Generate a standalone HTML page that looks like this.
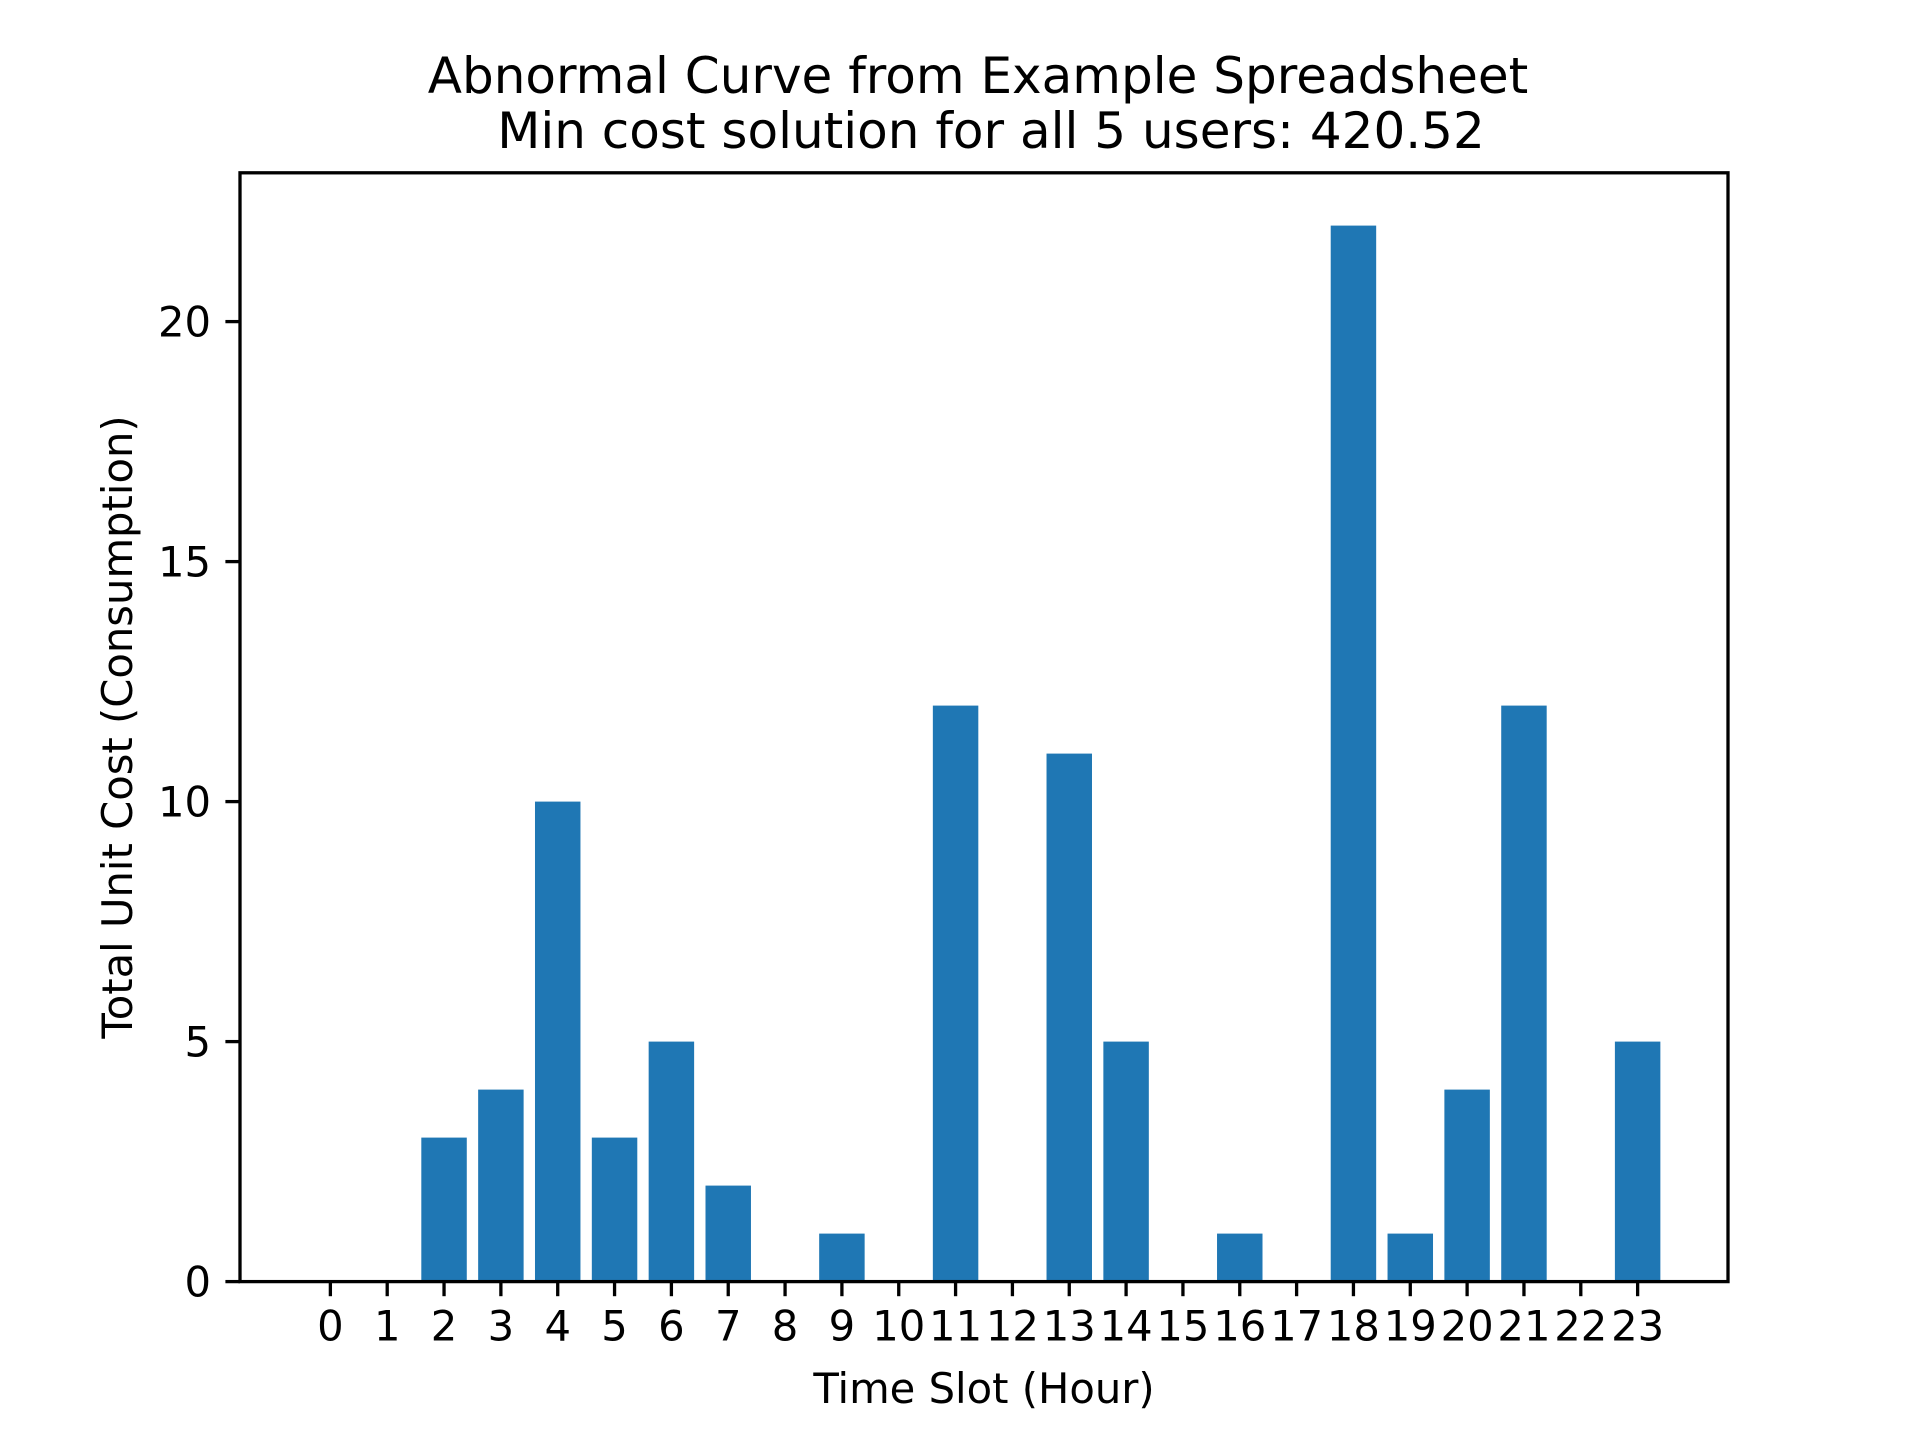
<!DOCTYPE html>
<html><head><meta charset="utf-8"><style>
html,body{margin:0;padding:0;background:#fff;}
svg{display:block;font-family:"DejaVu Sans","Liberation Sans",sans-serif;}
</style></head><body>
<svg id="chart" width="1920" height="1440" viewBox="0 0 1920 1440" xmlns="http://www.w3.org/2000/svg">
<rect width="1920" height="1440" fill="#fff"/>
<text x="978" y="93" font-size="50" text-anchor="middle" fill="#000">Abnormal Curve from Example Spreadsheet</text>
<text x="991" y="148" font-size="50" text-anchor="middle" fill="#000">Min cost solution for all 5 users: 420.52</text>
<g id="plot"></g>
<text x="984" y="1403" font-size="41.7" text-anchor="middle" fill="#000">Time Slot (Hour)</text>
<text transform="translate(132,727) rotate(-90)" font-size="41.7" text-anchor="middle" fill="#000">Total Unit Cost (Consumption)</text>
</svg>
<script>
const categories = ["0","1","2","3","4","5","6","7","8","9","10","11","12","13","14","15","16","17","18","19","20","21","22","23"];
const values = [0,0,3,4,10,3,5,2,0,1,0,12,0,11,5,0,1,0,22,1,4,12,0,5];
const yTicks = [0,5,10,15,20];

const L=240,R=1728,T=172.8,B=1281.6;
const n=categories.length;
const xMin=-0.4-0.05*(n-1+0.8), xMax=(n-1)+0.4+0.05*(n-1+0.8);
const yMax=Math.max(...values)*1.05;
const xs=v=>L+(v-xMin)/(xMax-xMin)*(R-L);
const ys=v=>B-(v/yMax)*(B-T);
const NS="http://www.w3.org/2000/svg";
const g=document.getElementById('plot');
function mk(tag,attrs){const e=document.createElementNS(NS,tag);for(const k in attrs)e.setAttribute(k,attrs[k]);g.appendChild(e);return e;}

values.forEach((v,i)=>{
  const x0=xs(i-0.4),x1=xs(i+0.4);
  const r=mk('rect',{x:x0,y:ys(v),width:x1-x0,height:ys(0)-ys(v),fill:'#1f77b4'});
  
  
});
const sp=mk('rect',{x:L,y:T,width:R-L,height:B-T,fill:'none',stroke:'#000','stroke-width':3.3});


categories.forEach((c,i)=>{
  const x=xs(i);
  const t=mk('line',{x1:x,x2:x,y1:B,y2:B+14.6,stroke:'#000','stroke-width':3.3});
  
  
  const lb=mk('text',{x:x,y:B+59,'font-size':41.7,'text-anchor':'middle',fill:'#000'});
  lb.textContent=c;
  
  
});
yTicks.forEach(v=>{
  const y=ys(v);
  const t=mk('line',{x1:L-14.6,x2:L,y1:y,y2:y,stroke:'#000','stroke-width':3.3});
  
  
  const lb=mk('text',{x:L-29,y:y+15,'font-size':41.7,'text-anchor':'end',fill:'#000'});
  lb.textContent=String(v);
  
  
});
</script>
</body></html>
